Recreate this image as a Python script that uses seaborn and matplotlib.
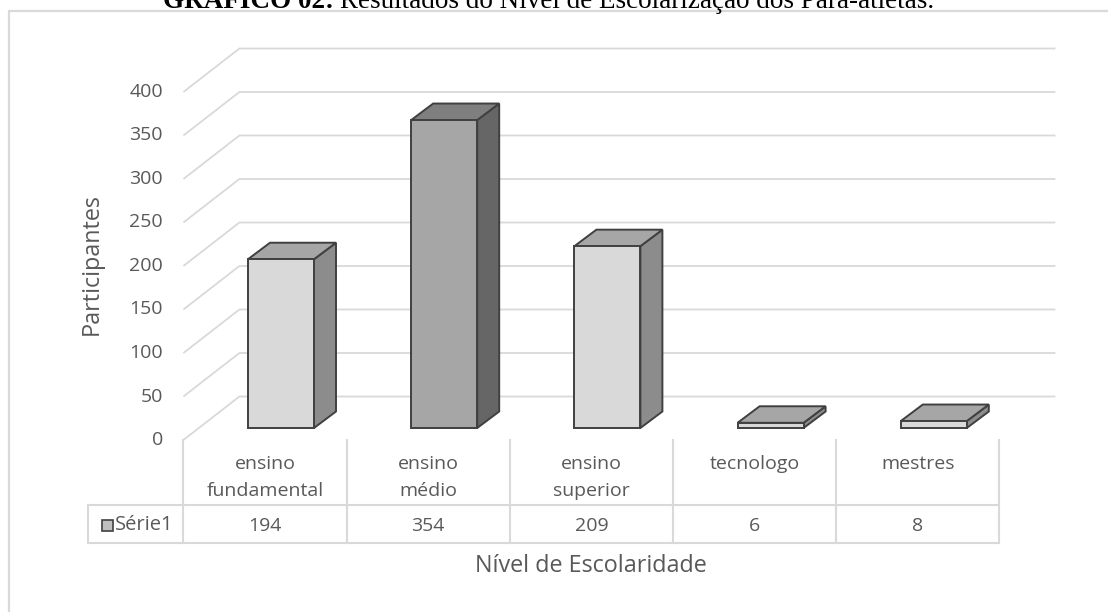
import matplotlib
matplotlib.use("Agg")
import matplotlib.pyplot as plt
import pandas as pd
import seaborn as sns
from matplotlib.patches import Polygon, Rectangle
from matplotlib.lines import Line2D

# ---- data -------------------------------------------------------------
categorias = ["ensino\nfundamental", "ensino\nmédio", "ensino\nsuperior", "tecnologo", "mestres"]
participantes = [194, 354, 209, 6, 8]
serie = "Série1"
valores_eixo = [0, 50, 100, 150, 200, 250, 300, 350, 400]
titulo_negrito = "GRÁFICO 02:"
titulo_resto = "Resultados do Nível de Escolarização dos Para-atletas."
rotulo_y = "Participantes"
rotulo_x = "Nível de Escolaridade"

# ---- style --------------------------------------------------------------
sns.set_theme(style="white")
plt.rcParams["font.family"] = ["Open Sans", "DejaVu Sans"]

TXT = "#595959"
GRID = "#d9d9d9"
EDGE = "#404040"
# front / top / side shades for the two bar tones
CLARO = ("#d9d9d9", "#a6a6a6", "#8c8c8c")
ESCURO = ("#a6a6a6", "#7f7f7f", "#666666")
tons = [CLARO, ESCURO, CLARO, CLARO, CLARO]

W, H = 1108, 612
fig = plt.figure(figsize=(W / 100, H / 100), dpi=100)
ax = fig.add_axes([0, 0, 1, 1])

# pixel layout of the 3-D frame (bar front plane is the data plane)
BAR_X0 = 281.0     # pixel column of first category on bar plane
STEP = 163.2       # pixels per category
BASE = 428.0       # pixel row of value 0 on bar plane
PPU = 0.87         # pixels per value unit


def X(px):
    return (px - BAR_X0) / STEP


def Y(py):
    return (BASE - py) / PPU


# oblique offsets (data units)
FRONT_DX, FRONT_DY = -16 / STEP, -12 / PPU        # bar plane -> floor front edge
WALL_DX, WALL_DY = 56 / STEP, 43.5 / PPU          # floor front -> back wall
BAR_DX, BAR_DY = 22 / STEP, 16.5 / PPU            # bar depth
BAR_W = 66 / STEP

n = len(categorias)
df = pd.DataFrame({"categoria": categorias, "participantes": participantes})

# ---- walls / gridlines ---------------------------------------------------
xf_left = -0.5 + FRONT_DX
xb_left = xf_left + WALL_DX
xb_right = n - 0.5 + FRONT_DX + WALL_DX
for v in valores_eixo:
    yf = v + FRONT_DY
    yb = yf + WALL_DY
    ax.plot([xf_left, xb_left, xb_right], [yf, yb, yb], color=GRID,
            lw=1.3, zorder=1, solid_capstyle="butt")
    ax.text(X(163), yf, f"{v}", ha="right", va="center", color=TXT, fontsize=14)

# ---- bars (front faces) --------------------------------------------------
sns.barplot(data=df, x="categoria", y="participantes", hue="categoria",
            order=categorias, hue_order=categorias,
            palette=[t[0] for t in tons], saturation=1, width=BAR_W,
            edgecolor=EDGE, linewidth=1.4, legend=False, ax=ax, zorder=3)

barras = sorted(ax.patches, key=lambda p: p.get_x())
for p, tom in zip(barras, tons):
    x0 = p.get_x()
    x1 = x0 + p.get_width()
    h = p.get_height()
    topo = [(x0, h), (x1, h), (x1 + BAR_DX, h + BAR_DY), (x0 + BAR_DX, h + BAR_DY)]
    lado = [(x1, 0), (x1 + BAR_DX, BAR_DY), (x1 + BAR_DX, h + BAR_DY), (x1, h)]
    ax.add_patch(Polygon(lado, closed=True, facecolor=tom[2], edgecolor=EDGE,
                         lw=1.4, zorder=2.9))
    ax.add_patch(Polygon(topo, closed=True, facecolor=tom[1], edgecolor=EDGE,
                         lw=1.4, zorder=2.9))

# ---- data table under the plot --------------------------------------------
y_top, y_mid, y_bot = Y(440), Y(505), Y(543)
fronteiras = [k - 0.5 + FRONT_DX for k in range(n + 1)]
tab = dict(color=GRID, lw=1.5, zorder=1, solid_capstyle="projecting")
for xk in fronteiras:
    ax.plot([xk, xk], [y_top, y_bot], **tab)
ax.plot([X(88), X(88)], [y_mid, y_bot], **tab)
ax.plot([X(88), fronteiras[-1]], [y_mid, y_mid], **tab)
ax.plot([X(88), fronteiras[-1]], [y_bot, y_bot], **tab)

for i, (cat, val) in enumerate(zip(categorias, participantes)):
    xc = i + FRONT_DX
    for j, linha in enumerate(cat.split("\n")):
        ax.text(xc, Y(464 + 27 * j), linha, ha="center", va="center",
                color=TXT, fontsize=14)
    ax.text(xc, Y(526), f"{val}", ha="center", va="center", color=TXT, fontsize=14)

# legend key inside the table
ax.add_patch(Rectangle((X(102), Y(531)), X(113) - X(102), Y(520) - Y(531),
                       facecolor="#bfbfbf", edgecolor=EDGE, lw=1.2, zorder=3))
ax.text(X(115), Y(525), serie, ha="left", va="center", color=TXT, fontsize=14.5)

# axis titles
ax.text(X(92), Y(264), rotulo_y, rotation=90, ha="center", va="center",
        color=TXT, fontsize=16.8)
ax.text(X(591), Y(566), rotulo_x, ha="center", va="center",
        color=TXT, fontsize=16.8)

ax.set_xlim(X(0), X(W))
ax.set_ylim(Y(H), Y(0))
ax.set_axis_off()

# ---- outer frame and caption ---------------------------------------------
fig.add_artist(Line2D([9 / W, 9 / W], [-0.05, 1 - 11 / H], color=GRID, lw=1.6,
                      transform=fig.transFigure))
fig.add_artist(Line2D([9 / W, 1.05], [1 - 11 / H, 1 - 11 / H], color=GRID, lw=1.6,
                      transform=fig.transFigure))

tb = fig.text(163 / W, 1 - 8 / H, titulo_negrito, ha="left", va="baseline",
              family="Liberation Serif", fontweight="bold", fontsize=19.5,
              color="black")
r = fig.canvas.get_renderer()
bb = tb.get_window_extent(renderer=r)
fig.text((bb.x1 + 6) / W, 1 - 8 / H, titulo_resto, ha="left", va="baseline",
         family="Liberation Serif", fontsize=19.5, color="black")

fig.savefig("out.png", dpi=100, facecolor="white")
